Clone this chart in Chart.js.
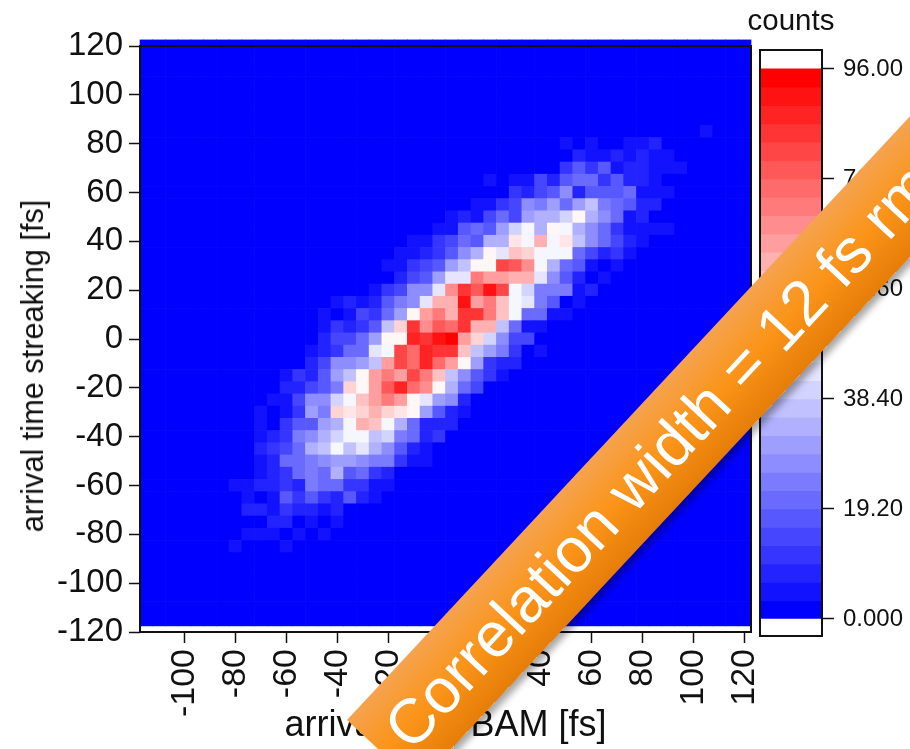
<!DOCTYPE html>
<html>
<head>
<meta charset="utf-8">
<title>Correlation</title>
<script src="https://cdn.jsdelivr.net/npm/chart.js@4"></script>
<style>
  html, body { margin: 0; padding: 0; background: #fff; overflow: hidden; width: 910px; height: 749px; }
  canvas { position: absolute; top: 0; }
  #heat { left: 0; }
  #bar { left: 752px; }
  #ytitle {
    position: absolute; left: 33px; top: 366px; white-space: nowrap;
    font: 30.7px "Liberation Sans", sans-serif; color: #111;
    transform: translate(-50%, -50%) rotate(-90deg);
  }
  #counts {
    position: absolute; left: 791px; top: 20px; white-space: nowrap;
    font: 29.5px "Liberation Sans", sans-serif; color: #111;
    transform: translate(-50%, -50%);
  }
  #banner {
    position: absolute; left: 347px; top: 720px; width: 1000px; height: 96px;
    transform-origin: 0 0; transform: rotate(-47deg);
    background: linear-gradient(to bottom, #f5a350 0%, #fb9418 50%, #e57d08 100%);
    box-shadow: 4px 6px 7px rgba(0, 0, 0, 0.35);
    color: #fff; font: 63px/96px "Liberation Sans", sans-serif; white-space: nowrap;
    padding-left: 20px; box-sizing: border-box;
  }
</style>
</head>
<body>
<canvas id="heat" width="756" height="749"></canvas>
<canvas id="bar" width="158" height="749"></canvas>
<div id="ytitle">arrival time streaking [fs]</div>
<div id="counts">counts</div>
<div id="banner">Correlation width = 12 fs rms</div>
<script>
const xTicks = [-100, -80, -60, -40, -20, 0, 20, 40, 60, 80, 100, 120];
const yTicks = [120, 100, 80, 60, 40, 20, 0, -20, -40, -60, -80, -100, -120];
const barTicks = [0, 19.2, 38.4, 57.6, 76.8, 96];
const barLabels = ['0.000', '19.20', '38.40', '57.60', '76.80', '96.00'];

// bin centres, 5 fs bins
const xBins = [];
for (let x = -115; x <= 120; x += 5) xBins.push(x);
const yBins = [];
for (let y = 120; y >= -115; y -= 5) yBins.push(y);

// only the rows/columns that are not empty
const rowY = [85, 80, 75, 70, 65, 60, 55, 50, 45, 40, 35, 30, 25, 20, 15, 10, 5, 0,
  -5, -10, -15, -20, -25, -30, -35, -40, -45, -50, -55, -60, -65, -70, -75, -80, -85];
const rowFirstX = [105, 50, 55, 50, 20, 30, 15, 5, 0, -10, -15, -20, -15, -25, -40, -45, -45, -45,
  -50, -50, -60, -60, -65, -70, -70, -70, -70, -70, -70, -80, -75, -75, -65, -75, -80];
const rowCounts = [
  [5],
  [5, 0, 5, 0, 0, 5, 5, 8],
  [8, 5, 5, 8, 5, 8, 5, 5],
  [11, 18, 11, 18, 5, 8, 8, 5, 5, 5],
  [5, 0, 5, 5, 14, 8, 18, 21, 21, 11, 18, 8, 8, 5],
  [11, 8, 14, 18, 27, 8, 18, 18, 18, 21, 5, 5, 5],
  [5, 5, 11, 14, 27, 24, 30, 21, 30, 37, 24, 21, 18, 8, 8],
  [5, 8, 5, 14, 21, 14, 30, 34, 34, 40, 50, 34, 27, 21, 5, 8],
  [5, 5, 18, 21, 18, 30, 40, 46, 34, 50, 46, 34, 27, 21, 11, 5, 5, 5, 5],
  [5, 5, 11, 14, 21, 18, 34, 34, 53, 46, 62, 46, 53, 37, 27, 21, 14, 8, 5],
  [5, 5, 8, 11, 18, 27, 34, 50, 43, 59, 56, 46, 46, 46, 21, 14, 8, 11, 5],
  [5, 5, 11, 14, 18, 30, 37, 50, 50, 82, 78, 69, 46, 34, 21, 18, 5, 0, 5],
  [8, 14, 18, 30, 43, 43, 72, 66, 66, 62, 62, 43, 27, 18, 8, 0, 5],
  [5, 11, 14, 27, 27, 43, 69, 85, 78, 91, 82, 46, 40, 24, 24, 24, 5, 8],
  [5, 8, 5, 8, 18, 24, 27, 43, 62, 62, 91, 66, 72, 59, 46, 43, 24, 18, 0, 5],
  [5, 0, 5, 14, 11, 21, 30, 50, 66, 72, 62, 85, 85, 72, 59, 46, 21, 21, 5, 5],
  [5, 11, 8, 11, 18, 37, 56, 85, 69, 78, 75, 85, 62, 62, 37, 21, 5, 5],
  [8, 14, 14, 21, 30, 50, 50, 88, 85, 91, 95, 66, 56, 40, 27, 14, 14],
  [5, 8, 11, 21, 21, 43, 46, 82, 75, 88, 85, 85, 59, 37, 30, 24, 11, 0, 5],
  [8, 14, 27, 27, 30, 37, 66, 82, 75, 88, 75, 66, 50, 30, 11, 8, 8],
  [5, 11, 8, 18, 30, 37, 50, 66, 72, 66, 82, 72, 59, 37, 27, 18, 11, 5],
  [8, 8, 14, 18, 24, 56, 50, 66, 78, 88, 75, 69, 50, 34, 21, 14],
  [5, 5, 14, 27, 27, 40, 46, 59, 66, 72, 66, 50, 43, 30, 27, 8],
  [5, 0, 5, 11, 30, 24, 56, 53, 56, 62, 56, 53, 50, 30, 18, 8, 5],
  [5, 0, 11, 18, 18, 30, 34, 46, 62, 59, 46, 34, 21, 8, 8, 8],
  [5, 8, 11, 24, 27, 34, 40, 46, 46, 37, 40, 24, 21, 8, 11],
  [8, 11, 14, 21, 34, 37, 46, 37, 43, 34, 27, 18, 8, 5],
  [5, 8, 21, 21, 24, 27, 30, 30, 27, 24, 24, 11, 5, 5],
  [5, 8, 11, 21, 24, 21, 34, 18, 21, 11, 8],
  [5, 5, 8, 8, 11, 8, 24, 21, 21, 11, 11, 5, 5],
  [5, 0, 5, 18, 11, 18, 11, 8, 18, 8, 5],
  [8, 8, 5, 11, 8, 8, 5, 8],
  [8, 8, 0, 5, 0, 5],
  [5, 5, 5, 0, 5, 0, 5],
  [5, 0, 0, 0, 5]
];

const FONT = '"Liberation Sans", sans-serif';
const INK = '#111';
const BAND = 3.2;
const BANDS = 30;

// blue - white - red in 30 steps, same as the colour bar
function bandColor(i) {
  const t = i / (BANDS - 1);
  if (t < 0.5) {
    const c = Math.round(t * 2 * 255);
    return `rgb(${c},${c},255)`;
  }
  const c = Math.round((1 - t) * 2 * 255);
  return `rgb(255,${c},${c})`;
}
function countColor(v) {
  return bandColor(Math.min(BANDS - 1, Math.floor(v / BAND)));
}

function countAt(x, y) {
  const r = rowY.indexOf(y);
  if (r < 0) return 0;
  const v = rowCounts[r][(x - rowFirstX[r]) / 5];
  return v === undefined ? 0 : v;
}

const cells = [];
yBins.forEach(y => xBins.forEach(x => {
  cells.push({ x: x, y: [y - 2.5, y + 2.5], count: countAt(x, y) });
}));

// box round the plot area
const frame = {
  id: 'frame',
  afterDatasetsDraw(chart) {
    const a = chart.chartArea;
    const ctx = chart.ctx;
    ctx.save();
    ctx.strokeStyle = INK;
    ctx.lineWidth = 2;
    ctx.strokeRect(a.left, a.top, a.right - a.left, a.bottom - a.top);
    ctx.restore();
  }
};

new Chart(document.getElementById('heat'), {
  type: 'bar',
  data: {
    datasets: [{
      data: cells,
      backgroundColor: cells.map(c => countColor(c.count)),
      borderWidth: 0,
      barPercentage: 1,
      categoryPercentage: 1,
      clip: false
    }]
  },
  options: {
    responsive: false,
    animation: false,
    layout: { autoPadding: false, padding: { left: 0, right: 5, top: 46, bottom: 0 } },
    plugins: { legend: { display: false }, tooltip: { enabled: false } },
    scales: {
      x: {
        type: 'linear',
        offset: false,
        min: -117.5,
        max: 122.5,
        afterBuildTicks: s => { s.ticks = xTicks.map(v => ({ value: v })); },
        // the rotated end label must not eat into the plot width
        afterFit: s => { s.height = 117; s.paddingLeft = 0; s.paddingRight = 0; },
        grid: { offset: false, drawOnChartArea: false, tickLength: 11, tickWidth: 1.5, tickColor: INK },
        border: { display: false },
        ticks: { minRotation: 90, maxRotation: 90, autoSkip: false, padding: 6, color: INK, font: { family: FONT, size: 34 } },
        title: { display: true, text: 'arrival time BAM [fs]', color: INK, padding: { top: 0, bottom: 1 }, font: { family: FONT, size: 36 } }
      },
      y: {
        min: -120,
        max: 120,
        afterBuildTicks: s => { s.ticks = yTicks.map(v => ({ value: v })); },
        afterFit: s => { s.width = 140; },
        grid: { drawOnChartArea: false, tickLength: 11, tickWidth: 1.5, tickColor: INK },
        border: { display: false },
        ticks: { autoSkip: false, padding: 6, color: INK, font: { family: FONT, size: 33 } }
      }
    }
  },
  plugins: [frame]
});

const bands = [];
for (let i = 0; i < BANDS; i++) bands.push(i);

new Chart(document.getElementById('bar'), {
  type: 'bar',
  data: {
    labels: ['counts'],
    datasets: [{
      data: bands.map(i => ({ x: 'counts', y: [i * BAND, (i + 1) * BAND] })),
      backgroundColor: bands.map(bandColor),
      borderWidth: 0,
      barPercentage: 1,
      categoryPercentage: 1
    }]
  },
  options: {
    responsive: false,
    animation: false,
    layout: { autoPadding: false, padding: { left: 8, right: 0, top: 50, bottom: 113 } },
    plugins: { legend: { display: false }, tooltip: { enabled: false } },
    scales: {
      x: { display: false },
      y: {
        position: 'right',
        min: -2.97,
        max: 99.3,
        afterBuildTicks: s => { s.ticks = barTicks.map(v => ({ value: v })); },
        afterFit: s => { s.width = 88; },
        grid: { drawOnChartArea: false, tickLength: 12, tickWidth: 1.5, tickColor: INK },
        border: { display: false },
        ticks: {
          autoSkip: false,
          padding: 9,
          color: INK,
          font: { family: FONT, size: 24 },
          callback: v => barLabels[barTicks.indexOf(v)]
        }
      }
    }
  },
  plugins: [frame]
});
</script>
</body>
</html>
